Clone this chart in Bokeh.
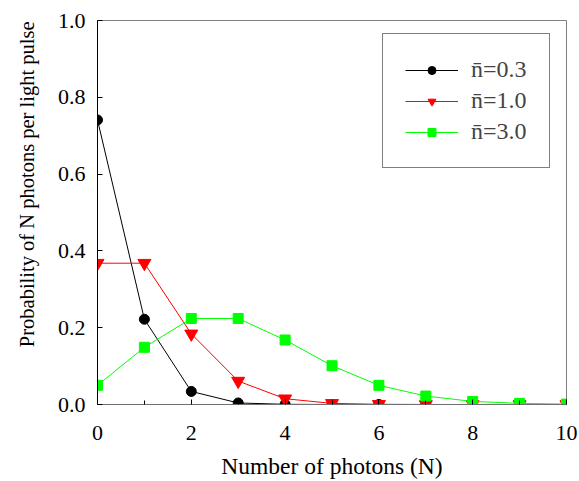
from bokeh.plotting import figure
from bokeh.models import Range1d, FixedTicker, Legend, LegendItem, PrintfTickFormatter
from bokeh.embed import file_html
from bokeh.resources import INLINE

# Data
photons = [0, 1, 2, 3, 4, 5, 6, 7, 8, 9, 10]
p_03 = [0.741, 0.222, 0.034, 0.004, 0.0005, 0.0, 0.0, 0.0, 0.0, 0.0, 0.0]
p_10 = [0.368, 0.368, 0.184, 0.061, 0.015, 0.003, 0.0005, 0.0001, 0.0, 0.0, 0.0]
p_30 = [0.050, 0.149, 0.224, 0.224, 0.168, 0.101, 0.050, 0.022, 0.008, 0.003, 0.001]
series_labels = ["n\u0304=0.3", "n\u0304=1.0", "n\u0304=3.0"]
x_ticks = [0, 2, 4, 6, 8, 10]
x_minor = [1, 3, 5, 7, 9]
y_ticks = [0.0, 0.2, 0.4, 0.6, 0.8, 1.0]
x_title = "Number of photons (N)"
y_title = "Probability of N photons per light pulse"

FONT = "Liberation Serif"

p = figure(width=579, height=481, output_backend="svg", toolbar_location=None,
           x_range=Range1d(0, 10), y_range=Range1d(0, 1),
           min_border_left=97, min_border_right=13, min_border_top=20, min_border_bottom=77)
p.background_fill_color = "white"
p.border_fill_color = "white"
p.grid.visible = False
p.outline_line_color = "#808080"
p.outline_line_width = 1

xa = p.xaxis[0]
xa.ticker = FixedTicker(ticks=x_ticks, minor_ticks=x_minor)
xa.major_tick_in = 5
xa.major_tick_out = 0
xa.minor_tick_in = 4
xa.minor_tick_out = 0
xa.axis_line_color = "#707070"
xa.major_tick_line_color = "black"
xa.minor_tick_line_color = "black"
xa.major_label_text_font = FONT
xa.major_label_text_font_size = "22px"
xa.major_label_text_color = "black"
xa.major_label_standoff = 21
xa.axis_label = x_title
xa.axis_label_text_font = FONT
xa.axis_label_text_font_size = "23.5px"
xa.axis_label_text_font_style = "normal"
xa.axis_label_text_color = "black"
xa.axis_label_standoff = 10

ya = p.yaxis[0]
ya.ticker = FixedTicker(ticks=y_ticks, minor_ticks=[])
ya.major_tick_in = 5
ya.major_tick_out = 0
ya.minor_tick_in = 0
ya.minor_tick_out = 0
ya.axis_line_color = "black"
ya.major_label_text_font = FONT
ya.major_label_text_font_size = "22px"
ya.major_label_text_color = "black"
ya.major_label_standoff = 12
ya.formatter = PrintfTickFormatter(format="%.1f")
# leading non-breaking spaces shift the centred title toward the top, as in the reference
ya.axis_label = "\u00a0" * 11 + y_title
ya.axis_label_text_font = FONT
ya.axis_label_text_font_size = "20.5px"
ya.axis_label_text_font_style = "normal"
ya.axis_label_text_color = "black"
ya.axis_label_standoff = 17

colors = ["black", "red", "#00ff00"]
r1l = p.line(photons, p_03, color=colors[0], line_width=1)
r1m = p.scatter(photons, p_03, marker="circle", size=10, color=colors[0])
r2l = p.line(photons, p_10, color=colors[1], line_width=1)
r2m = p.scatter(photons, p_10, marker="inverted_triangle", size=13, color=colors[1])
r3l = p.line(photons, p_30, color=colors[2], line_width=1)
r3m = p.scatter(photons, p_30, marker="square", size=10, color=colors[2])

legend = Legend(items=[
    LegendItem(label=series_labels[0], renderers=[r1l, r1m]),
    LegendItem(label=series_labels[1], renderers=[r2l, r2m]),
    LegendItem(label=series_labels[2], renderers=[r3l, r3m]),
], location=(285, 236))
legend.border_line_color = "black"
legend.border_line_width = 1
legend.background_fill_color = "white"
legend.background_fill_alpha = 1
legend.label_text_font = FONT
legend.label_text_font_size = "24px"
legend.glyph_width = 53
legend.glyph_height = 20
legend.label_height = 20
legend.spacing = 4
legend.padding = 22
legend.margin = 0
legend.label_standoff = 13
p.add_layout(legend, "center")

open("out.html", "w").write(file_html(p, INLINE))
